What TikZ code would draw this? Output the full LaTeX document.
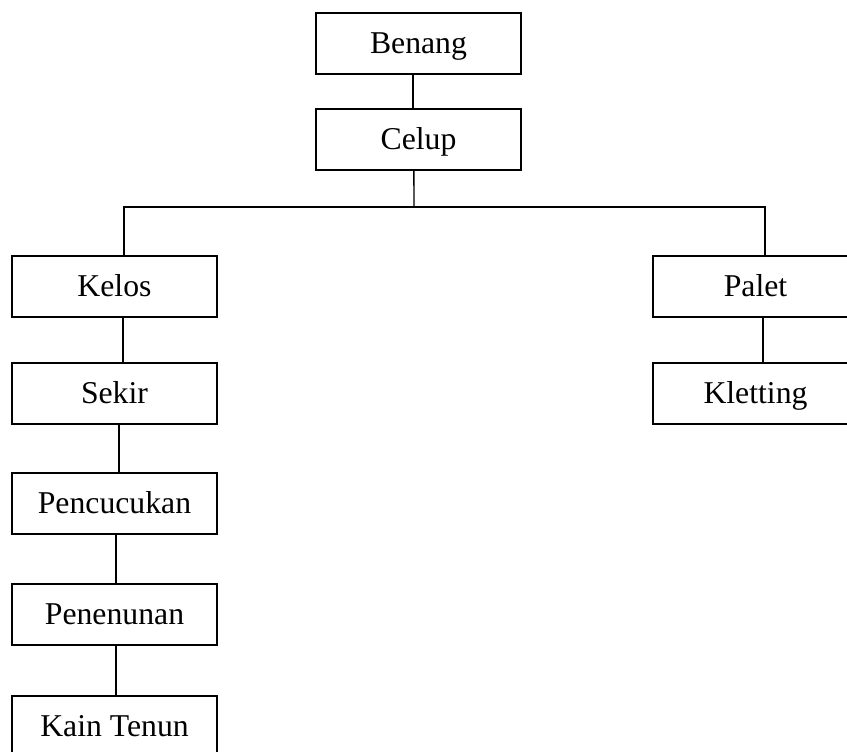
\documentclass[tikz,border=0pt]{standalone}
\usepackage{fontspec}
\setmainfont{Liberation Serif}
\begin{document}
\begin{tikzpicture}[x=0.75pt,y=0.75pt,yscale=-1,
  box/.style={draw, line width=1.4pt, minimum width=153.75pt, minimum height=45.75pt, inner sep=0pt,
    font=\fontsize{23.8}{28}\selectfont, text height=21.4pt, text depth=5.7pt},
  link/.style={line width=1.1pt}]
\useasboundingbox (0,0) rectangle (847,752);
\clip (0,0) rectangle (847,752);

\node [box] (benang) at (418.5,43.5) {Benang};
\node [box] (celup) at (418.5,139.5) {Celup};
\node [box] (kelos) at (114.5,286.5) {Kelos};
\node [box] (sekir) at (114.5,393.5) {Sekir};
\node [box] (pencucukan) at (114.5,503.5) {Pencucukan};
\node [box] (penenunan) at (114.5,614.5) {Penenunan};
\node [box] (kaintenun) at (114.5,726.5) {Kain Tenun};
\node [box] (palet) at (755.5,286.5) {Palet};
\node [box] (kletting) at (755.5,393.5) {Kletting};

\coordinate (split) at (414,207);

\draw [link] ([xshift=-4pt]benang.south) -- ([xshift=-4pt]celup.north);
\draw [link] ([xshift=-3.4pt]celup.south) -- (split);
\draw [link] ([xshift=7.1pt]kelos.north) |- (split) -| ([xshift=7.1pt]palet.north);

\draw [link] ([xshift=6.4pt]kelos.south) -- ([xshift=6.4pt]sekir.north);
\draw [link] ([xshift=3.4pt]sekir.south) -- ([xshift=3.4pt]pencucukan.north);
\draw [link] ([xshift=1.1pt]pencucukan.south) -- ([xshift=1.1pt]penenunan.north);
\draw [link] ([xshift=1.1pt]penenunan.south) -- ([xshift=1.1pt]kaintenun.north);
\draw [link] ([xshift=5.6pt]palet.south) -- ([xshift=5.6pt]kletting.north);
\end{tikzpicture}
\end{document}
